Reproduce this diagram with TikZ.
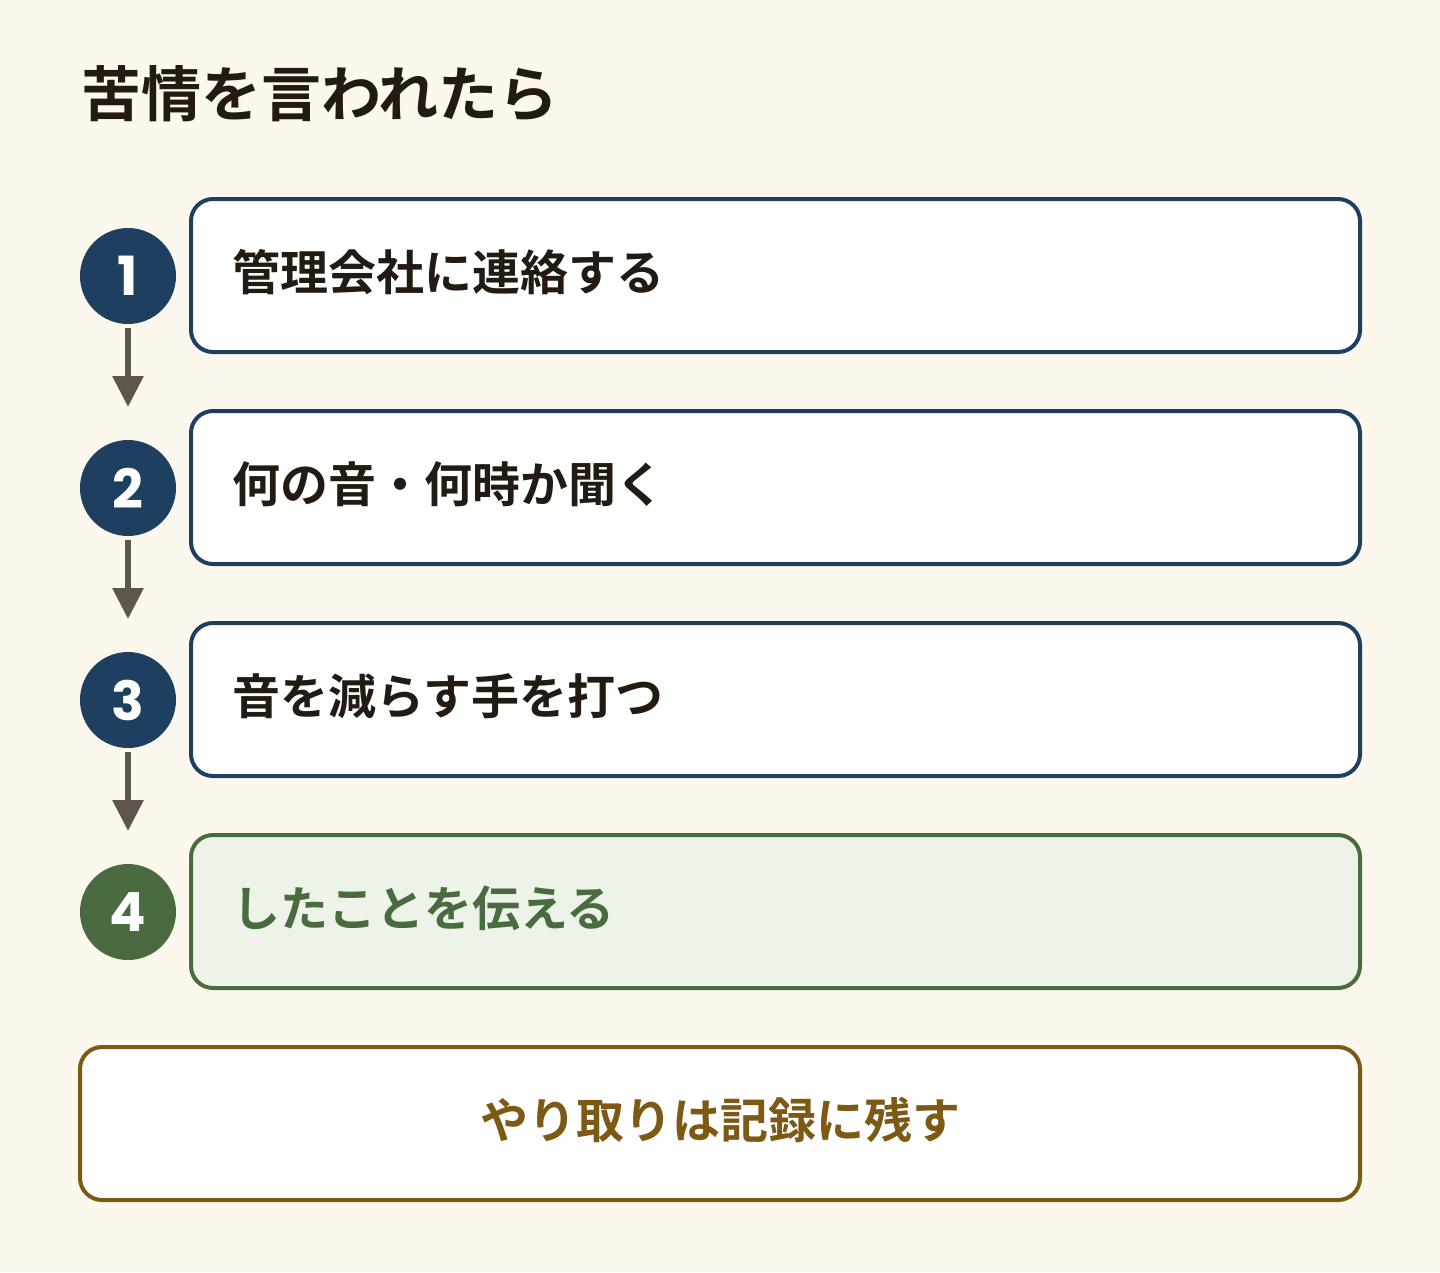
\documentclass[tikz,border=0pt]{standalone}
\usepackage{fontspec}
\newfontfamily\jp{Noto Sans CJK JP Bold}
\newfontfamily\numfont{Poppins}
\usetikzlibrary{arrows.meta}
\definecolor{bg}{HTML}{FCF8EE}
\definecolor{navy}{HTML}{1E3F5F}
\definecolor{grn}{HTML}{4A6B40}
\definecolor{grnfill}{HTML}{EEF3EA}
\definecolor{brn}{HTML}{7D5A14}
\definecolor{arr}{HTML}{5E564C}
\definecolor{ink}{HTML}{231A12}
\tikzset{
  stepbox/.style={draw=navy, line width=4pt, rounded corners=22pt, fill=white},
  numcirc/.style={circle, fill=navy, minimum size=96pt, inner sep=0pt, text=white, font=\numfont\bfseries\fontsize{54}{54}\selectfont},
  boxtext/.style={anchor=west, inner sep=0pt, text=ink, font=\jp\fontsize{48}{48}\selectfont},
  flowarrow/.style={draw=arr, line width=6pt, -{Triangle[length=31pt,width=30pt]}},
}
\begin{document}
\begin{tikzpicture}[x=1pt,y=-1pt]
\useasboundingbox (0,0) rectangle (1440,1272);
\fill[bg] (0,0) rectangle (1440,1272);
\node[anchor=west, inner sep=0pt, text=ink, font=\jp\fontsize{60}{60}\selectfont] (title) at (81,94) {苦情を言われたら};
% boxes
\draw[stepbox] (191,199) rectangle (1360,352);
\draw[stepbox] (191,411) rectangle (1360,564);
\draw[stepbox] (191,623) rectangle (1360,776);
\draw[stepbox, draw=grn, fill=grnfill] (191,835) rectangle (1360,988);
\draw[stepbox, draw=brn] (80,1047) rectangle (1360,1200);
\node[boxtext] (t1) at (232,272) {管理会社に連絡する};
\node[boxtext] (t2) at (232,484) {何の音・何時か聞く};
\node[boxtext] (t3) at (232,696) {音を減らす手を打つ};
\node[boxtext, text=grn] (t4) at (232,908) {したことを伝える};
\node[anchor=center, inner sep=0pt, text=brn, font=\jp\fontsize{48}{48}\selectfont] (t5) at (720,1120) {やり取りは記録に残す};
% circles
\node[numcirc] (c1) at (128,276) {1};
\node[numcirc] (c2) at (128,488) {2};
\node[numcirc] (c3) at (128,700) {3};
\node[numcirc, fill=grn] (c4) at (128,912) {4};
% arrows
\coordinate (s1) at (128,328);
\coordinate (s2) at (128,540);
\coordinate (s3) at (128,752);
\coordinate (a1) at (128,407);
\coordinate (a2) at (128,619);
\coordinate (a3) at (128,831);
\draw[flowarrow] (s1) -- (a1);
\draw[flowarrow] (s2) -- (a2);
\draw[flowarrow] (s3) -- (a3);
\end{tikzpicture}
\end{document}
